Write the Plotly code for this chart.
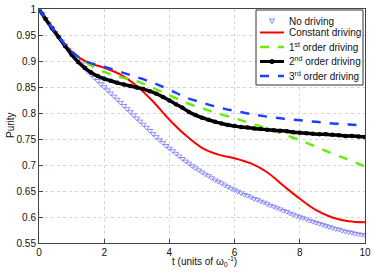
import plotly.graph_objects as go

# time grids
t_fine = [round(i * 0.1, 1) for i in range(101)]
t_mid = [round(i * 0.2, 1) for i in range(51)]
t_coarse = [round(i * 0.5, 1) for i in range(21)]

no_driving = [
    1.000, 0.991, 0.981, 0.972, 0.963, 0.955, 0.946, 0.938, 0.930, 0.922,
    0.915, 0.908, 0.901, 0.894, 0.887, 0.880, 0.874, 0.868, 0.862, 0.856,
    0.850, 0.844, 0.838, 0.832, 0.826, 0.820, 0.814, 0.808, 0.802, 0.796,
    0.790, 0.784, 0.778, 0.772, 0.766, 0.760, 0.754, 0.748, 0.743, 0.737,
    0.732, 0.727, 0.722, 0.717, 0.712, 0.707, 0.703, 0.698, 0.694, 0.690,
    0.686, 0.682, 0.679, 0.675, 0.671, 0.668, 0.665, 0.661, 0.658, 0.655,
    0.652, 0.649, 0.646, 0.643, 0.641, 0.638, 0.635, 0.633, 0.630, 0.628,
    0.625, 0.622, 0.620, 0.617, 0.615, 0.612, 0.610, 0.607, 0.605, 0.602,
    0.600, 0.598, 0.596, 0.593, 0.591, 0.589, 0.587, 0.585, 0.583, 0.581,
    0.579, 0.577, 0.576, 0.574, 0.572, 0.571, 0.570, 0.568, 0.567, 0.566,
    0.565,
]

second_order = [
    1.000, 0.981, 0.963, 0.946, 0.929, 0.912, 0.898, 0.887, 0.878, 0.871,
    0.866, 0.862, 0.858, 0.855, 0.852, 0.849, 0.846, 0.842, 0.837, 0.831,
    0.824, 0.817, 0.810, 0.802, 0.796, 0.791, 0.787, 0.783, 0.780, 0.777,
    0.775, 0.773, 0.772, 0.770, 0.769, 0.768, 0.767, 0.766, 0.765, 0.763,
    0.762, 0.761, 0.760, 0.759, 0.759, 0.758, 0.757, 0.756, 0.756, 0.755,
    0.754,
]

constant = [1.0, 0.955, 0.918, 0.897, 0.887, 0.874, 0.852, 0.822, 0.787, 0.757,
            0.733, 0.720, 0.713, 0.703, 0.686, 0.660, 0.635, 0.613, 0.599, 0.592, 0.590]
first_order = [1.0, 0.955, 0.918, 0.895, 0.879, 0.869, 0.861, 0.848, 0.834, 0.820,
               0.809, 0.799, 0.790, 0.780, 0.770, 0.759, 0.748, 0.735, 0.722, 0.710, 0.697]
third_order = [1.0, 0.955, 0.918, 0.898, 0.889, 0.879, 0.869, 0.858, 0.845, 0.830,
               0.820, 0.811, 0.804, 0.798, 0.793, 0.789, 0.786, 0.783, 0.780, 0.778, 0.776]

x_ticks = [0, 2, 4, 6, 8, 10]
y_ticks = [0.55, 0.6, 0.65, 0.7, 0.75, 0.8, 0.85, 0.9, 0.95, 1.0]
y_tick_labels = ["0.55", "0.6", "0.65", "0.7", "0.75", "0.8", "0.85", "0.9", "0.95", "1"]

legend_names = ["No driving", "Constant driving", "1<sup>st</sup> order driving",
                "2<sup>nd</sup> order driving", "3<sup>rd</sup> order driving"]

FONT = "Liberation Sans, Arial, sans-serif"
C_TRI = "#8080ff"
C_RED = "#ff0000"
C_GREEN = "#66ee00"
C_BLACK = "#000000"
C_BLUE = "#1f3fff"

# figure geometry (pixels)
W, H = 374, 273
ML, MR, MT, MB = 39, 9, 9, 30
PW, PH = W - ML - MR, H - MT - MB


def px(xp):
    return (xp - ML) / PW


def py(yp):
    return (H - MB - yp) / PH


fig = go.Figure()
fig.add_trace(go.Scatter(
    x=t_fine, y=no_driving, mode="markers", name=legend_names[0],
    marker=dict(symbol="triangle-down-open", size=5, color=C_TRI,
                line=dict(width=0.9, color=C_TRI)),
))
fig.add_trace(go.Scatter(
    x=t_coarse, y=constant, mode="lines", name=legend_names[1],
    line=dict(color=C_RED, width=2, shape="spline"),
))
fig.add_trace(go.Scatter(
    x=t_coarse, y=first_order, mode="lines", name=legend_names[2],
    line=dict(color=C_GREEN, width=2.5, dash="dash", shape="spline"),
))
fig.add_trace(go.Scatter(
    x=t_mid, y=second_order, mode="lines+markers", name=legend_names[3],
    line=dict(color=C_BLACK, width=3.5, shape="spline"),
    marker=dict(symbol="circle", size=4.5, color=C_BLACK),
))
fig.add_trace(go.Scatter(
    x=t_coarse, y=third_order, mode="lines", name=legend_names[4],
    line=dict(color=C_BLUE, width=2.5, dash="dash", shape="spline"),
))

axis_common = dict(
    showline=True, linecolor="#444444", linewidth=1, mirror=True,
    ticks="inside", ticklen=4, tickcolor="#444444",
    showgrid=True, gridcolor="#d4d4d4", griddash="dot", gridwidth=1,
    zeroline=False, automargin=False,
    tickfont=dict(family=FONT, size=10, color="#111111"),
)

fig.update_xaxes(range=[0, 10], tickvals=x_ticks, **axis_common)
fig.update_yaxes(range=[0.55, 1.0], tickvals=y_ticks, ticktext=y_tick_labels, **axis_common)

# ---- manual legend (compact, like the original) ----
shapes = []
annotations = []
LX0, LX1, LY0, LY1 = 256, 363, 10, 85
shapes.append(dict(type="rect", xref="paper", yref="paper",
                   x0=px(LX0), x1=px(LX1), y0=py(LY1), y1=py(LY0),
                   fillcolor="white", line=dict(color="#333333", width=1), layer="above"))
rows = [21, 32.5, 47, 61.5, 76]
sx0, sx1, smid, tx = 260, 284, 272, 287
tri_y = rows[0]
shapes.append(dict(type="path", xref="paper", yref="paper", layer="above",
                   path=f"M {px(smid-2.5)},{py(tri_y-2)} L {px(smid+2.5)},{py(tri_y-2)} "
                        f"L {px(smid)},{py(tri_y+2.5)} Z",
                   line=dict(color=C_TRI, width=1)))
line_styles = [(C_RED, 2, "solid"), (C_GREEN, 2.5, "dash"), (C_BLACK, 3, "solid"), (C_BLUE, 2.5, "dash")]
for (col, wd, ds), ry in zip(line_styles, rows[1:]):
    shapes.append(dict(type="line", xref="paper", yref="paper", layer="above",
                       x0=px(sx0), x1=px(sx1), y0=py(ry), y1=py(ry),
                       line=dict(color=col, width=wd, dash=ds)))
shapes.append(dict(type="circle", xref="paper", yref="paper", layer="above",
                   x0=px(smid - 2.5), x1=px(smid + 2.5), y0=py(rows[3] + 2.5), y1=py(rows[3] - 2.5),
                   fillcolor=C_BLACK, line=dict(color=C_BLACK, width=0)))
for name, ry in zip(legend_names, rows):
    annotations.append(dict(text=name, xref="paper", yref="paper", x=px(tx), y=py(ry),
                            xanchor="left", yanchor="middle", showarrow=False,
                            font=dict(family=FONT, size=10, color="#111111")))

# axis titles
annotations.append(dict(text="t (units of ω<sub>0</sub><sup>-1</sup>)", xref="paper", yref="paper",
                        x=px(205), y=py(261), xanchor="center", yanchor="middle", showarrow=False,
                        font=dict(family=FONT, size=10, color="#111111")))
annotations.append(dict(text="Purity", xref="paper", yref="paper", textangle=-90,
                        x=px(10), y=py(125), xanchor="center", yanchor="middle", showarrow=False,
                        font=dict(family=FONT, size=10, color="#111111")))

fig.update_layout(
    width=W, height=H,
    margin=dict(l=ML, r=MR, t=MT, b=MB),
    paper_bgcolor="white", plot_bgcolor="white",
    font=dict(family=FONT, size=10, color="#111111"),
    showlegend=False, hovermode=False,
    shapes=shapes, annotations=annotations,
)

fig.write_html("out.html", config={"displayModeBar": False, "staticPlot": True},
               post_script="document.body.style.margin='0';document.body.style.overflow='hidden';")
